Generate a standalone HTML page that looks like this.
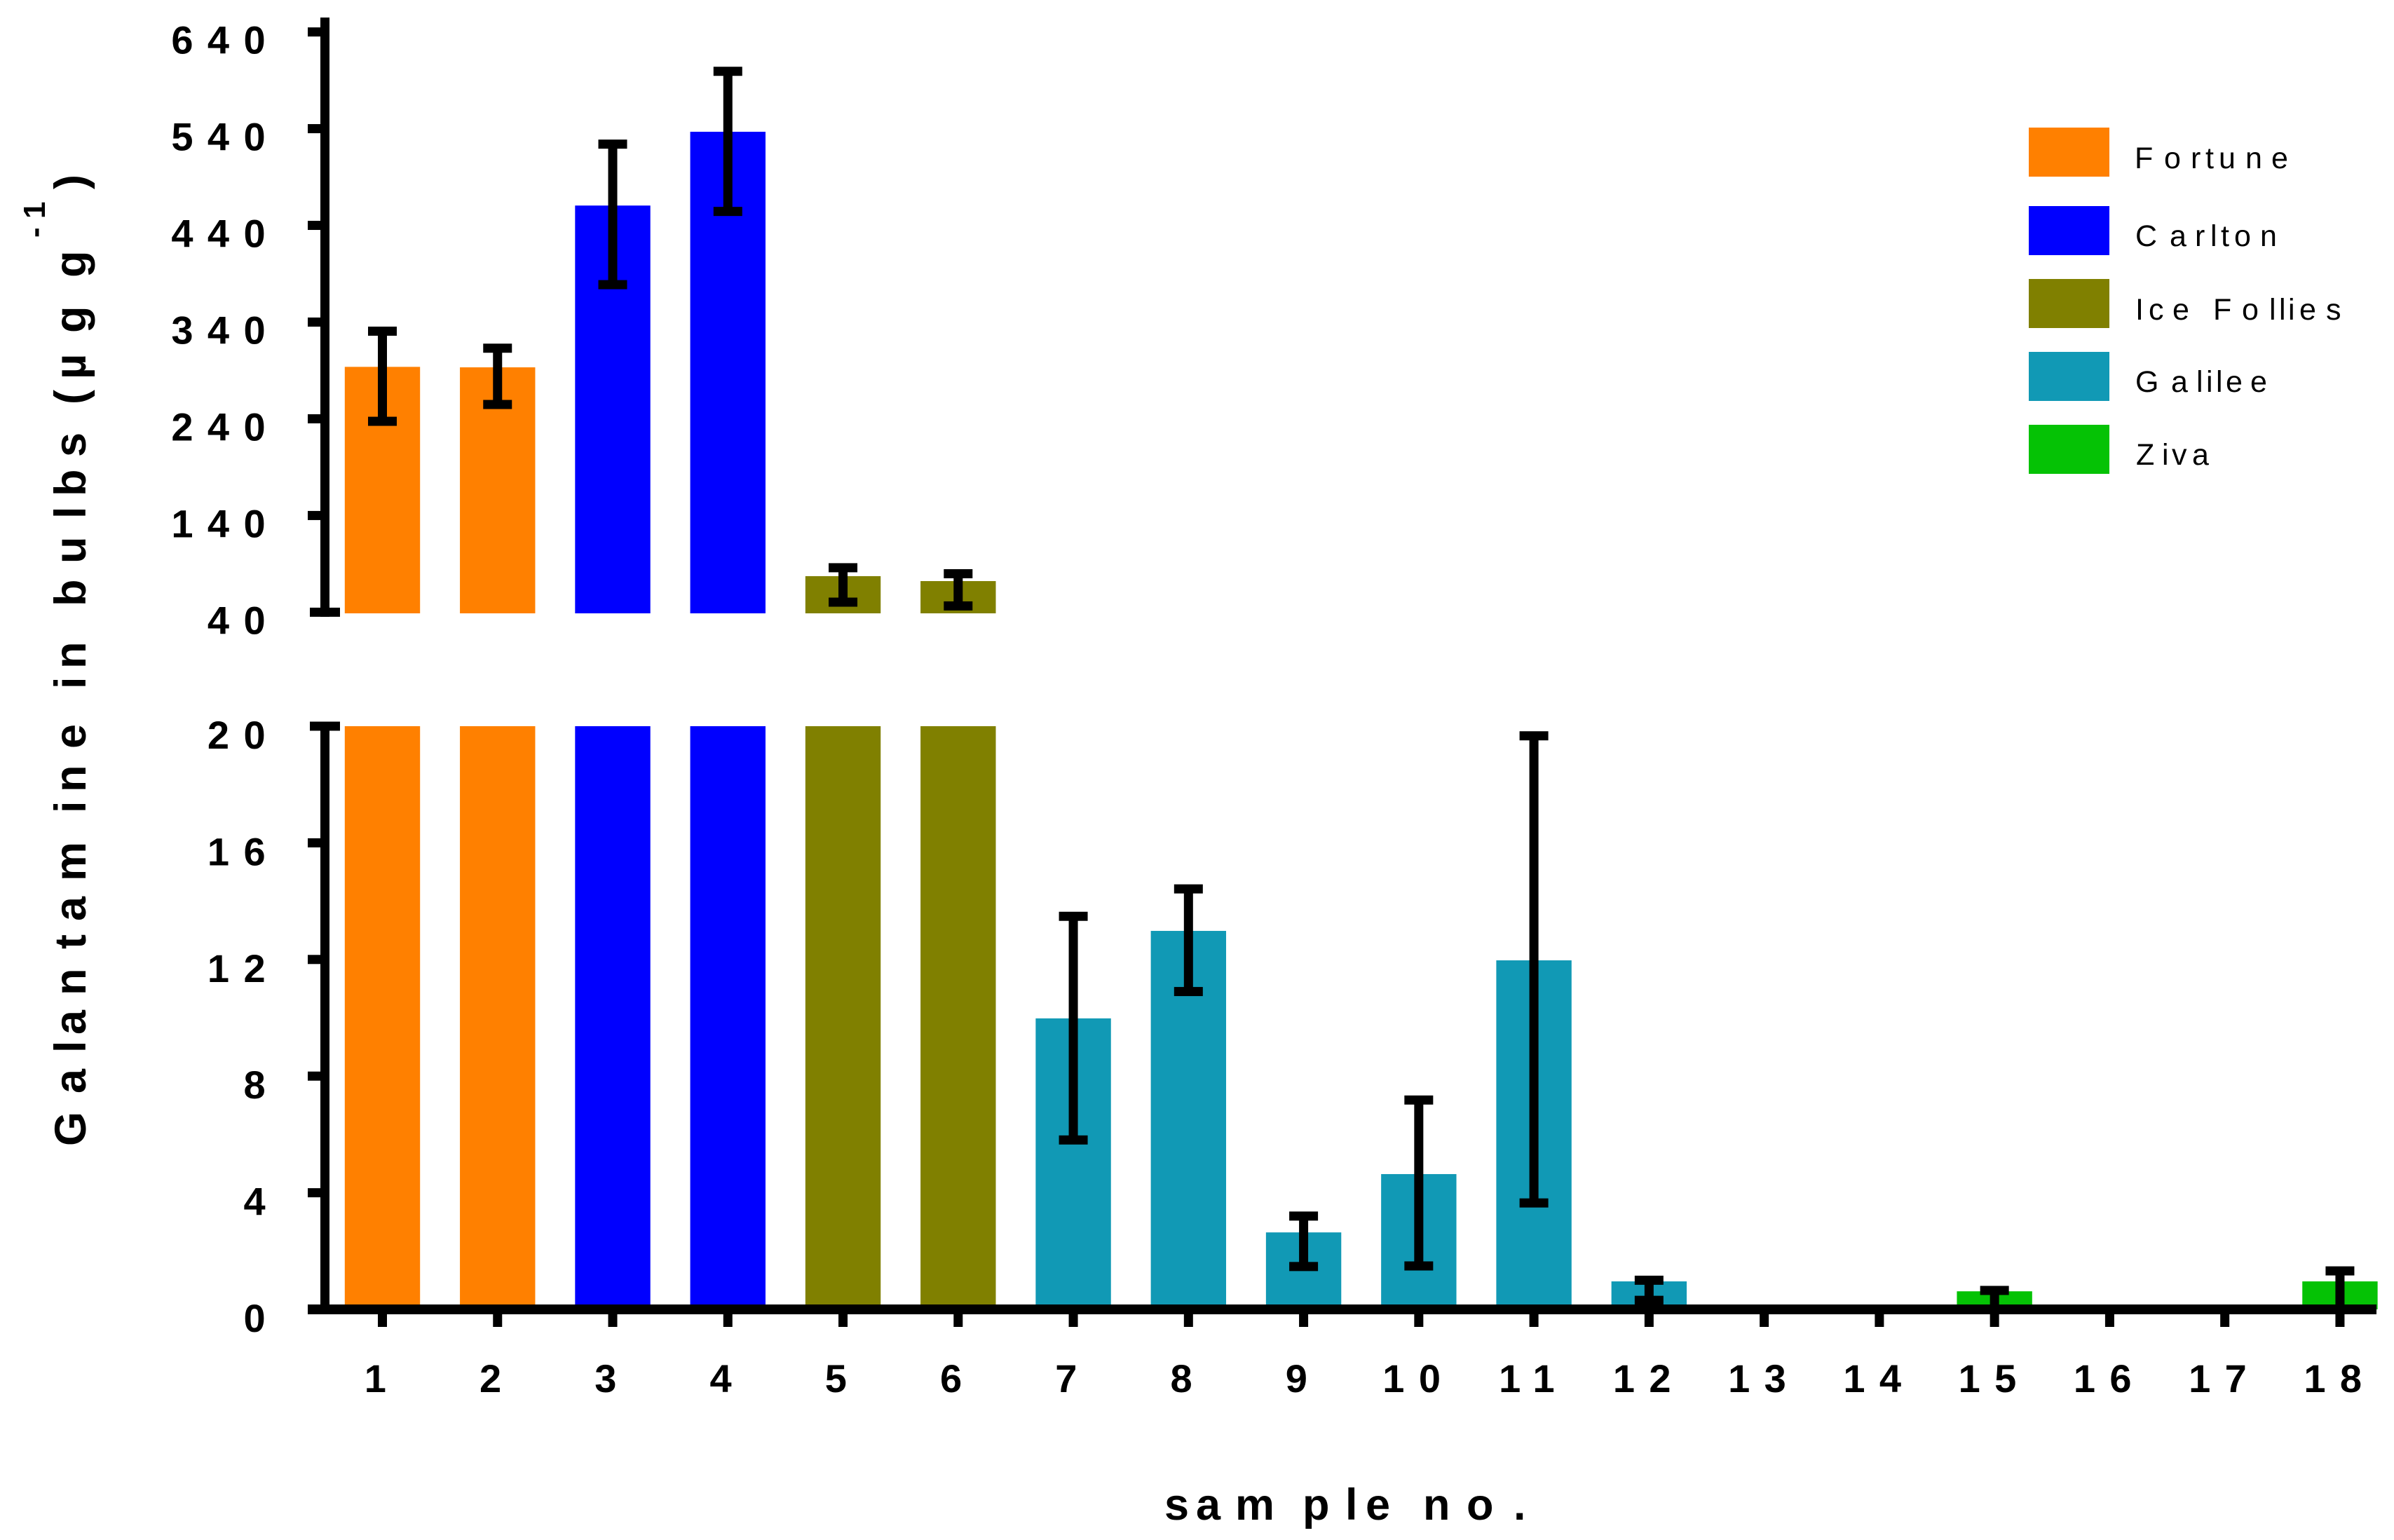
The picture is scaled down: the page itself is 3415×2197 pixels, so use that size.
<!DOCTYPE html>
<html lang="en">
<head>
<meta charset="utf-8">
<title>Galantamine in bulbs by sample</title>
<style>
html,body{margin:0;padding:0;background:#fff;}
svg{display:block;}
text{font-family:"Liberation Sans",Arial,sans-serif;fill:#000;}
.tick-label{font-weight:bold;font-size:56px;letter-spacing:20.4px;}
.axis-title{font-weight:bold;font-size:63px;}
.legend-label{font-size:43px;}
</style>
</head>
<body>
<svg id="chart" xmlns="http://www.w3.org/2000/svg" width="3415" height="2197" viewBox="0 0 3415 2197">
  <rect x="0" y="0" width="3415" height="2197" fill="#ffffff"/>
  <g id="bars"></g>
  <g id="errors"></g>
  <g id="axes"></g>

  <g transform="rotate(-90)">
    <text class="axis-title" y="122" x="-1635 -1560 -1502 -1476 -1420 -1354 -1314 -1257 -1160 -1130 -1068 -1040 -983 -954 -900 -865 -804 -740 -708 -652 -600 -577 -541 -475 -430 -396">Galantamine in bulbs (µg g</text>
    <text y="64" x="-339 -312" font-size="44" font-weight="bold">-1</text>
    <text class="axis-title" y="122" x="-270">)</text>
  </g>

  <text class="axis-title" y="2168" x="1661 1706 1762 1858 1919 1948 2000 2030 2092 2159">sample no.</text>

  <g>
    <g>
      <rect x="2894" y="182" width="115" height="70" fill="#ff8000"/>
      <text class="legend-label" y="240" x="3045 3087 3125 3146 3165 3203 3240">Fortune</text>
    </g>
    <g>
      <rect x="2894" y="294" width="115" height="70" fill="#0000ff"/>
      <text class="legend-label" y="351" x="3046 3095 3131 3153 3168 3187 3224">Carlton</text>
    </g>
    <g>
      <rect x="2894" y="398" width="115" height="70" fill="#808000"/>
      <text class="legend-label" y="456" x="3046 3065 3099 3130 3157 3198 3237 3251 3264 3280 3318">Ice Follies</text>
    </g>
    <g>
      <rect x="2894" y="502" width="115" height="70" fill="#1199b5"/>
      <text class="legend-label" y="559" x="3046 3097 3133 3147 3161 3175 3210">Galilee</text>
    </g>
    <g>
      <rect x="2894" y="606" width="115" height="70" fill="#05c205"/>
      <text class="legend-label" y="663" x="3047 3084 3098 3127">Ziva</text>
    </g>
  </g>
</svg>
<script>
const samples = ['1','2','3','4','5','6','7','8','9','10','11','12','13','14','15','16','17','18'];
const varieties = ['Fortune','Fortune','Carlton','Carlton','Ice Follies','Ice Follies','Galilee','Galilee','Galilee','Galilee','Galilee','Galilee','Ziva','Ziva','Ziva','Ziva','Ziva','Ziva'];
const means = [293.7,293.2,460.5,536.8,77.3,72.2,9.98,12.98,2.64,4.64,11.97,0.96,0,0,0.62,0,0,0.96];
const errHigh = [330.6,313,524,599.3,86,79.8,13.48,14.42,3.2,7.18,19.67,1.0,0,0,0.65,0,0,1.32];
const errLow = [237.4,254.8,378.7,454.4,50.4,46.5,5.81,10.9,1.47,1.49,3.65,0.31,0,0,0,0,0,0];
const upperTicks = [40,140,240,340,440,540,640];
const lowerTicks = [0,4,8,12,16,20];
const varietyNames = ['Fortune','Carlton','Ice Follies','Galilee','Ziva'];
const varietyColors = ['#ff8000','#0000ff','#808000','#1199b5','#05c205'];

const NS = 'http://www.w3.org/2000/svg';
const barsLayer = document.getElementById('bars');
const errorsLayer = document.getElementById('errors');
const axesLayer = document.getElementById('axes');

const BREAK_LOW = 20;
const BREAK_HIGH = 40;
function xScale(i) { return 545.5 + 164.26 * i; }
function yUpper(v) { return 873.4 - (v - BREAK_HIGH) * 1.3797; }
function yLower(v) { return 1868 - v * 41.6; }
function yAny(v) { return v >= BREAK_HIGH ? yUpper(v) : yLower(v); }
function slug(s) { return s.toLowerCase().replace(/\s+/g, '-'); }

function makeRect(layer, x, y, w, h, fill) {
  const r = document.createElementNS(NS, 'rect');
  r.setAttribute('x', x);
  r.setAttribute('y', y);
  r.setAttribute('width', w);
  r.setAttribute('height', h);
  r.setAttribute('fill', fill);
  layer.appendChild(r);
  return r;
}

function makeLabel(layer, x, y, anchor, content) {
  const t = document.createElementNS(NS, 'text');
  t.setAttribute('class', 'tick-label');
  t.setAttribute('x', x);
  t.setAttribute('y', y);
  t.setAttribute('text-anchor', anchor);
  t.textContent = content;
  layer.appendChild(t);
  return t;
}

const BAR_W = 107.4;
samples.forEach(function (s, i) {
  const v = means[i];
  const color = varietyColors[varietyNames.indexOf(varieties[i])];
  const cx = xScale(i);
  if (v > 0) {
    const top = Math.min(v, BREAK_LOW);
    const lowerBar = makeRect(barsLayer, cx - BAR_W / 2, yLower(top), BAR_W, yLower(0) - yLower(top), color);
    
    
    if (v >= BREAK_HIGH) {
      const upperBar = makeRect(barsLayer, cx - BAR_W / 2, yUpper(v), BAR_W, 875 - yUpper(v), color);
      
      
    }
  }
  if (errHigh[i] > 0) {
    const hi = yAny(errHigh[i]);
    const lo = yAny(errLow[i]);
    const stem = makeRect(errorsLayer, cx - 6.5, hi, 13, lo - hi, '#000');
    
    
    const capTop = makeRect(errorsLayer, cx - 20.5, hi - 6.5, 41, 13, '#000');
    
    
    const capLow = makeRect(errorsLayer, cx - 20.5, lo - 6.5, 41, 13, '#000');
    
    
  }
});

const upperSpine = makeRect(axesLayer, 457, 25, 13, 855, '#000');


const lowerSpine = makeRect(axesLayer, 457, 1030, 13, 845, '#000');


const xAxisLine = makeRect(axesLayer, 439, 1861, 2951, 14, '#000');



upperTicks.forEach(function (v) {
  const y = yUpper(v);
  const isEnd = v === BREAK_HIGH;
  const tick = makeRect(axesLayer, isEnd ? 442 : 439, y - 6.5, isEnd ? 43 : 20, 13, '#000');
  
  
  const label = makeLabel(axesLayer, 399, y + 31, 'end', String(v));
  
  
});

lowerTicks.forEach(function (v) {
  const y = yLower(v);
  const isEnd = v === BREAK_LOW;
  const tick = makeRect(axesLayer, isEnd ? 442 : 439, y - 6.5, isEnd ? 43 : 20, 13, '#000');
  
  
  const label = makeLabel(axesLayer, 399, y + 32, 'end', String(v));
  
  
});

samples.forEach(function (s, i) {
  const cx = xScale(i);
  const tick = makeRect(axesLayer, cx - 6.5, 1875, 13, 18, '#000');
  
  
  const label = makeLabel(axesLayer, cx, 1986, 'middle', s);
  
  
});
</script>
</body>
</html>
